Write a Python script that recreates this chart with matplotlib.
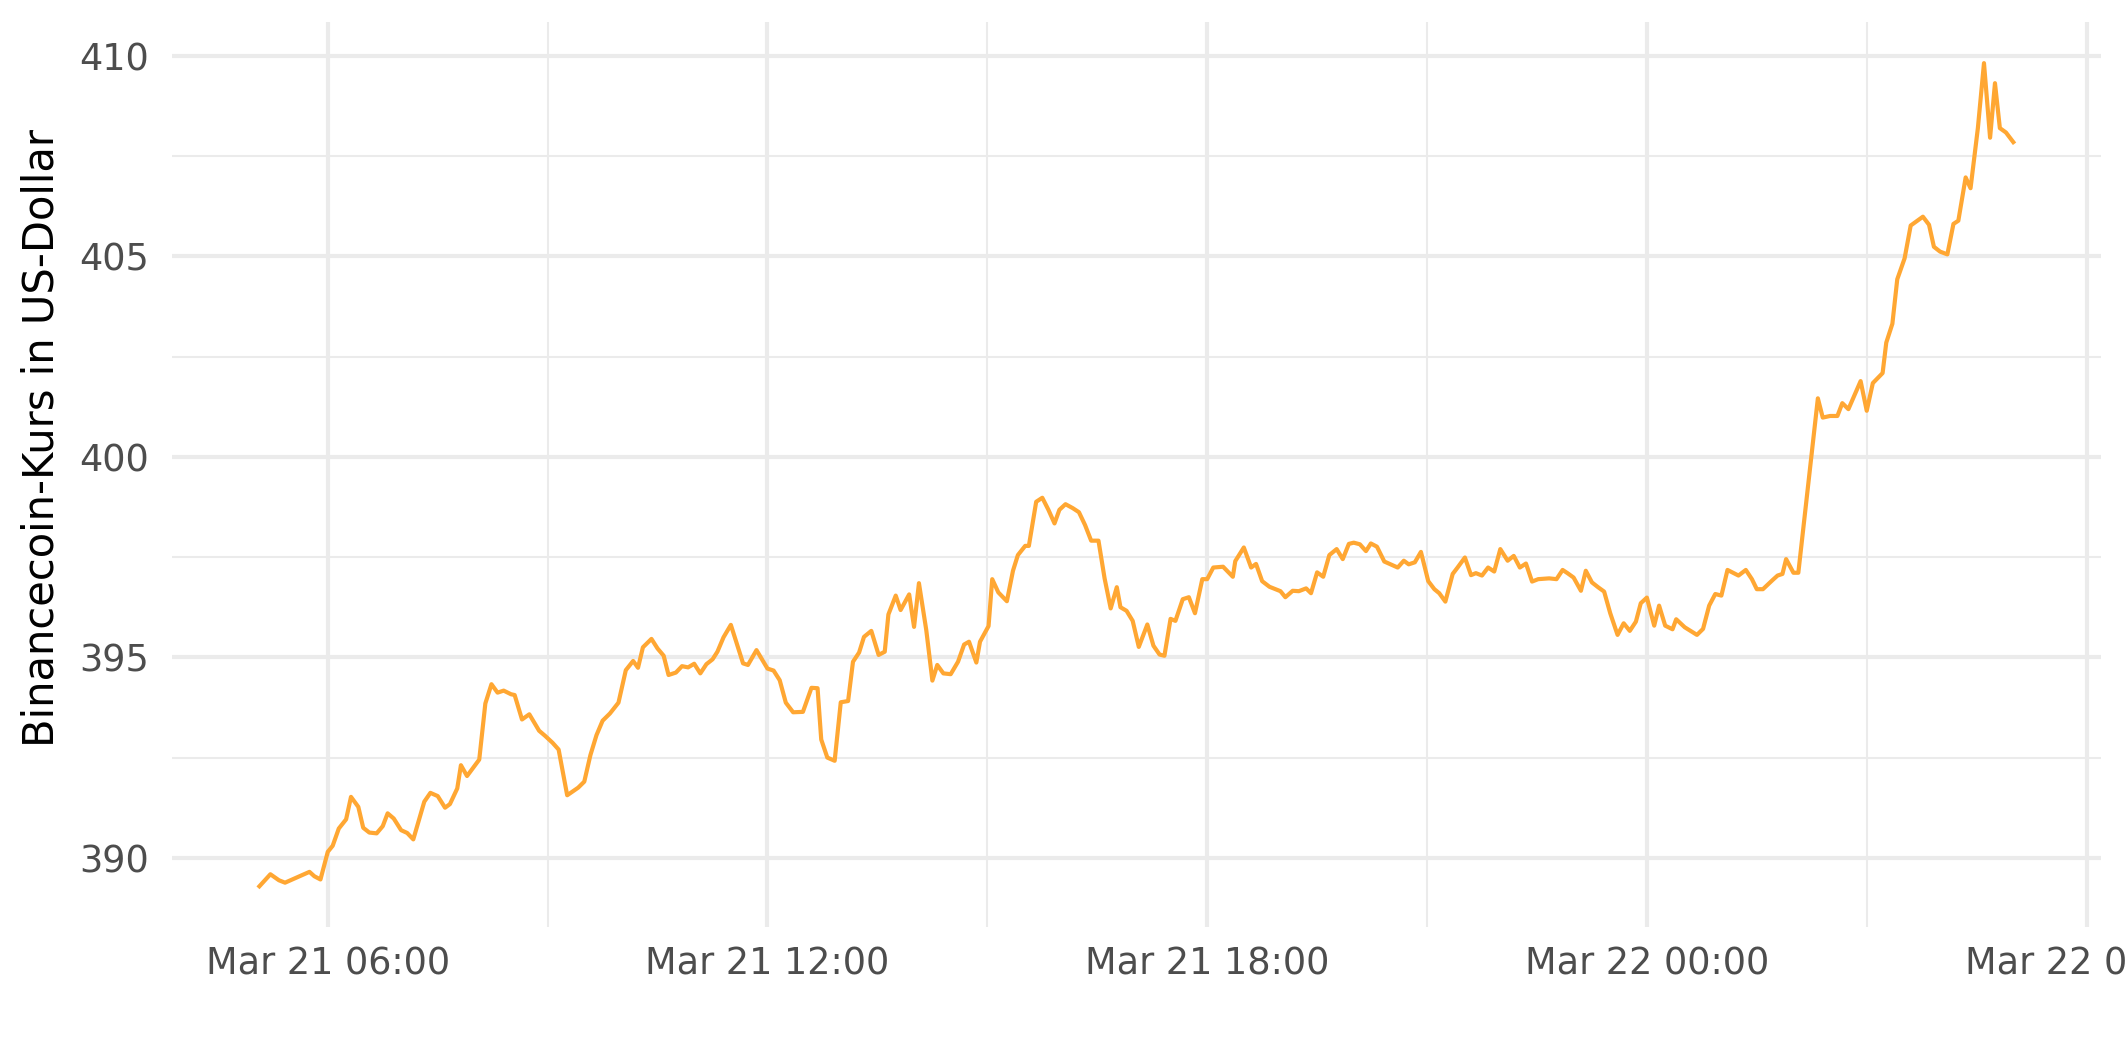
import matplotlib
matplotlib.use("Agg")
import matplotlib.pyplot as plt
import matplotlib.dates as mdates
import pandas as pd

# minutes after 2022-03-21 00:00
minutes = [
    304, 313, 320, 325, 336, 345, 349, 354, 360, 364, 369, 375, 379, 385, 389, 394,
    400, 405, 409, 414, 420, 425, 430, 435, 439, 444, 450, 456, 460, 466, 469, 474,
    484, 489, 494, 499, 504, 510, 513, 519, 525, 533, 538, 544, 549, 556, 565, 570,
    575, 580, 585, 591, 598, 604, 610, 614, 618, 625, 630, 635, 639, 645, 650, 655,
    660, 665, 670, 675, 679, 684, 690, 700, 704, 711, 720, 725, 730, 735, 741, 749,
    756, 761, 764, 769, 775, 780, 786, 790, 795, 799, 805, 811, 816, 819, 825, 829,
    836, 840, 844, 850, 855, 859, 864, 870, 876, 881, 885, 891, 894, 901, 904, 909,
    916, 921, 925, 931, 934, 940, 945, 950, 955, 959, 964, 970, 975, 980, 985, 991,
    996, 1001, 1006, 1009, 1014, 1019, 1024, 1031, 1036, 1041, 1045, 1050, 1054, 1060, 1065, 1070,
    1076, 1080, 1085, 1093, 1101, 1103, 1110, 1116, 1120, 1125, 1131, 1140, 1144, 1150, 1155, 1161,
    1165, 1170, 1175, 1180, 1186, 1191, 1196, 1200, 1205, 1210, 1214, 1219, 1225, 1236, 1241, 1245,
    1250, 1255, 1261, 1266, 1270, 1275, 1281, 1285, 1291, 1296, 1300, 1305, 1310, 1315, 1320, 1326,
    1331, 1336, 1341, 1346, 1351, 1360, 1366, 1371, 1375, 1380, 1386, 1390, 1395, 1400, 1405, 1410,
    1416, 1421, 1426, 1431, 1435, 1440, 1446, 1450, 1455, 1461, 1464, 1471, 1481, 1486, 1491, 1496,
    1501, 1506, 1515, 1521, 1526, 1530, 1535, 1543, 1547, 1551, 1554, 1560, 1564, 1580, 1584, 1590,
    1596, 1600, 1605, 1615, 1620, 1625, 1633, 1636, 1641, 1645, 1651, 1656, 1666, 1671, 1675, 1680,
    1686, 1691, 1695, 1701, 1705, 1711, 1716, 1721, 1725, 1729, 1734, 1740,
]

prices = [
    389.29, 389.59, 389.44, 389.38, 389.53, 389.65, 389.54, 389.46, 390.15, 390.30, 390.73, 390.96, 391.52, 391.27, 390.75, 390.63,
    390.61, 390.79, 391.11, 390.98, 390.69, 390.62, 390.46, 390.98, 391.40, 391.62, 391.54, 391.25, 391.34, 391.73, 392.31, 392.04,
    392.45, 393.85, 394.33, 394.12, 394.17, 394.08, 394.06, 393.45, 393.58, 393.17, 393.04, 392.87, 392.70, 391.56, 391.75, 391.90,
    392.56, 393.06, 393.42, 393.60, 393.87, 394.68, 394.91, 394.74, 395.25, 395.46, 395.22, 395.04, 394.56, 394.62, 394.78, 394.75,
    394.84, 394.60, 394.83, 394.95, 395.14, 395.50, 395.81, 394.85, 394.81, 395.18, 394.72, 394.67, 394.43, 393.87, 393.63, 393.64,
    394.24, 394.23, 392.95, 392.50, 392.42, 393.88, 393.91, 394.89, 395.12, 395.51, 395.66, 395.06, 395.14, 396.07, 396.54, 396.18,
    396.57, 395.76, 396.85, 395.68, 394.42, 394.81, 394.60, 394.58, 394.89, 395.32, 395.39, 394.87, 395.39, 395.78, 396.95, 396.62,
    396.40, 397.16, 397.55, 397.78, 397.78, 398.88, 398.98, 398.68, 398.34, 398.68, 398.82, 398.72, 398.62, 398.30, 397.91, 397.91,
    396.97, 396.22, 396.75, 396.25, 396.16, 395.91, 395.26, 395.82, 395.29, 395.07, 395.04, 395.96, 395.91, 396.45, 396.50, 396.10,
    396.95, 396.95, 397.24, 397.26, 397.01, 397.40, 397.74, 397.24, 397.33, 396.90, 396.76, 396.65, 396.50, 396.66, 396.65, 396.72,
    396.60, 397.12, 397.01, 397.55, 397.70, 397.45, 397.83, 397.86, 397.82, 397.65, 397.84, 397.76, 397.39, 397.24, 397.41, 397.32,
    397.37, 397.63, 396.90, 396.70, 396.60, 396.39, 397.08, 397.24, 397.49, 397.05, 397.10, 397.04, 397.24, 397.14, 397.70, 397.41,
    397.53, 397.24, 397.34, 396.89, 396.95, 396.97, 396.95, 397.18, 397.10, 396.99, 396.66, 397.16, 396.87, 396.75, 396.64, 396.10,
    395.56, 395.85, 395.66, 395.89, 396.35, 396.49, 395.79, 396.29, 395.79, 395.70, 395.95, 395.75, 395.56, 395.71, 396.29, 396.58,
    396.54, 397.18, 397.04, 397.18, 396.95, 396.70, 396.70, 396.93, 397.04, 397.08, 397.45, 397.11, 397.11, 401.46, 400.98, 401.02,
    401.02, 401.34, 401.19, 401.89, 401.15, 401.84, 402.09, 402.85, 403.32, 404.43, 404.95, 405.77, 405.99, 405.79, 405.24, 405.12,
    405.05, 405.81, 405.89, 406.97, 406.70, 408.20, 409.82, 407.96, 409.32, 408.20, 408.09, 407.85,
]

y_ticks = [390, 395, 400, 405, 410]
y_minor = [392.5, 397.5, 402.5, 407.5]
y_label = "Binancecoin-Kurs in US-Dollar"

base = pd.Timestamp("2022-03-21 00:00")
times = [base + pd.Timedelta(minutes=m) for m in minutes]

fig = plt.figure(figsize=(2125 / 300, 1062 / 300), dpi=300)
ax = fig.add_axes([0.0808, 0.1267, 0.9079, 0.8526])

ax.plot(times, prices, color="#FFA733", lw=1.0, solid_joinstyle="round", zorder=3)
ax.margins(x=0.05, y=0.05)

ax.xaxis.set_major_locator(mdates.HourLocator(byhour=[0, 6, 12, 18]))
ax.xaxis.set_minor_locator(mdates.HourLocator(byhour=[3, 9, 15, 21]))
ax.xaxis.set_major_formatter(mdates.DateFormatter("%b %d %H:%M"))
ax.set_yticks(y_ticks)
ax.set_yticks(y_minor, minor=True)

ax.grid(which="major", color="#EBEBEB", lw=1.0)
ax.grid(which="minor", color="#EBEBEB", lw=0.5)
ax.set_axisbelow(True)
for s in ax.spines.values():
    s.set_visible(False)
ax.tick_params(which="both", length=0)
ax.tick_params(axis="x", labelsize=8.8, labelcolor="#4D4D4D", pad=4.3)
ax.tick_params(axis="y", labelsize=8.8, labelcolor="#4D4D4D", pad=5.5)
ax.set_ylabel(y_label, fontsize=10, color="black", va="center")
ax.yaxis.set_label_coords(-0.0677, 0.54)

fig.savefig("out.png", dpi=300, facecolor="white")
